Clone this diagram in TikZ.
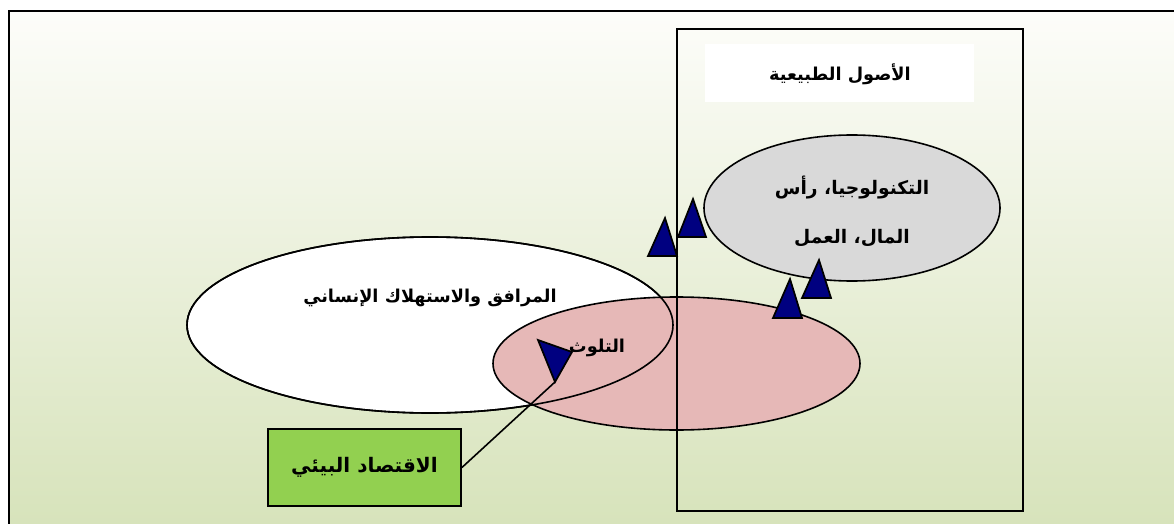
\documentclass[tikz,border=0pt]{standalone}
\usepackage{fontspec}
\newfontfamily\arabicfont[Script=Arabic]{DejaVu Sans}
\TeXXeTstate=1
\usetikzlibrary{shapes.geometric}
\definecolor{bgtop}{HTML}{FDFDFA}
\definecolor{bgbottom}{HTML}{D7E3BB}
\definecolor{pinkfill}{HTML}{E6B8B7}
\definecolor{grayfill}{HTML}{D9D9D9}
\definecolor{greenfill}{HTML}{92D050}
\definecolor{headnavy}{HTML}{000080}
\tikzset{
  artxt/.style={font=\arabicfont\bfseries\fontsize{13.3}{16}\selectfont, text=black, inner sep=0pt},
  blob/.style={ellipse, draw=black, line width=1.2pt, inner sep=0pt},
  head/.style={fill=headnavy, draw=black, line width=1.3pt, line join=miter},
}
\begin{document}
\begin{tikzpicture}[x=0.75pt, y=-0.75pt]
\useasboundingbox (0,0) rectangle (1174,524);
% page background and frame
\fill[white] (0,0) rectangle (1174,524);
\shade[top color=bgtop, bottom color=bgbottom] (9,11) rectangle (1174,524);
\draw[line width=2pt] (9,524) -- (9,11) -- (1174,11);

% title panel
\fill[white] (705,44) rectangle (974,102);
\node[artxt] (title) at (840,74) {\beginR الأصول الطبيعية\endR};

% resources ellipse
\node[blob, fill=grayfill, minimum width=296*0.75pt, minimum height=146*0.75pt] (tech) at (852,208) {};
\node[artxt, font=\arabicfont\bfseries\fontsize{14}{16}\selectfont] (tech1) at (852,188) {\beginR التكنولوجيا، رأس\endR};
\node[artxt, font=\arabicfont\bfseries\fontsize{14}{16}\selectfont] (tech2) at (852,238) {\beginR المال، العمل\endR};

% consumption and pollution ellipses
\node[blob, fill=white, minimum width=486*0.75pt, minimum height=176*0.75pt] (cons) at (430,325) {};
\node[blob, fill=pinkfill, minimum width=367*0.75pt, minimum height=133*0.75pt] (poll) at (676.5,363.5) {};
\draw[line width=1.2pt] (cons.center) ellipse [x radius=243, y radius=88];
\node[artxt] (constxt) at (430,298) {\beginR المرافق والاستهلاك الإنساني\endR};
\node[artxt] (polltxt) at (597,348) {\beginR التلوث\endR};

% natural assets frame
\draw[line width=1.2pt] (677,29) rectangle (1023,511);

% environmental economics box and its connector
\node[draw=black, line width=1.4pt, fill=greenfill, minimum width=193*0.75pt, minimum height=77*0.75pt,
      font=\arabicfont\bfseries\fontsize{15}{18}\selectfont, inner sep=0pt] (econ) at (364.5,467.5) {\beginR الاقتصاد البيئي\endR};
\coordinate (hit) at (555,382);
\draw[line width=1.2pt] (econ.east) -- (hit);
\draw[head] (538,340) -- (572,352) -- (hit) -- cycle;

% arrow heads
\draw[head] (665,218) -- (677,256) -- (648,256) -- cycle;
\draw[head] (693,199) -- (706,237) -- (678,237) -- cycle;
\draw[head] (819,260) -- (831,298) -- (802,298) -- cycle;
\draw[head] (790,279) -- (802,318) -- (773,318) -- cycle;
\end{tikzpicture}
\end{document}
